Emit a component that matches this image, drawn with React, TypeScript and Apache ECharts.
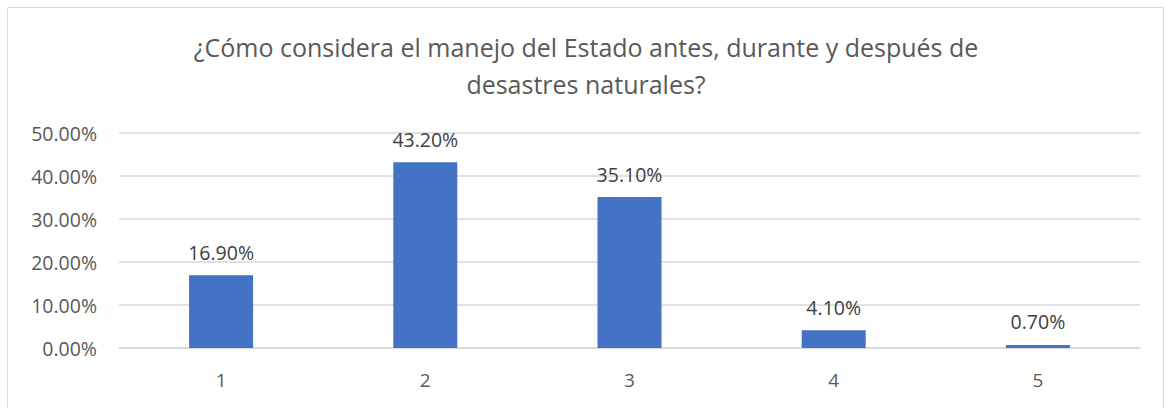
import React, { useEffect, useRef } from "react";
import * as echarts from "echarts";

const titleText = "¿Cómo considera el manejo del Estado antes, durante y después de\ndesastres naturales?";
const categories = ["1", "2", "3", "4", "5"];
const values = [16.9, 43.2, 35.1, 4.1, 0.7];

export default function App() {
  const ref = useRef<HTMLDivElement>(null);
  useEffect(() => {
    const chart = echarts.init(ref.current!, undefined, { renderer: "svg" });
    chart.setOption({
      animation: false,
      backgroundColor: "#ffffff",
      title: {
        text: titleText,
        left: "center",
        top: 23,
        textStyle: {
          fontFamily: "Open Sans",
          fontSize: 25,
          fontWeight: "normal",
          color: "#595959",
          lineHeight: 37,
        },
      },
      graphic: [
        {
          type: "rect",
          shape: { x: 7.5, y: 7.5, width: 1156, height: 420 },
          style: { fill: "none", stroke: "#d9d9d9", lineWidth: 1 },
          silent: true,
        },
      ],
      grid: { left: 119, right: 32, top: 133, bottom: 60 },
      xAxis: {
        type: "category",
        data: categories,
        axisTick: { show: false },
        axisLine: { lineStyle: { color: "#d9d9d9", width: 1.5 } },
        axisLabel: {
          color: "#595959",
          fontFamily: "Open Sans",
          fontSize: 19,
          margin: 22,
        },
      },
      yAxis: {
        type: "value",
        min: 0,
        max: 50,
        interval: 10,
        axisLine: { show: false },
        axisTick: { show: false },
        splitLine: { lineStyle: { color: "#d9d9d9", width: 1.5 } },
        axisLabel: {
          color: "#595959",
          fontFamily: "Open Sans",
          fontSize: 19.5,
          margin: 22,
          formatter: (v: number) => v.toFixed(2) + "%",
        },
      },
      series: [
        {
          type: "bar",
          data: values,
          barWidth: 64,
          itemStyle: { color: "#4472c4" },
          label: {
            show: true,
            position: "top",
            distance: 13,
            color: "#404040",
            fontFamily: "Open Sans",
            fontSize: 19.5,
            formatter: (p: any) => p.value.toFixed(2) + "%",
          },
        },
      ],
    });
    return () => chart.dispose();
  }, []);
  return (
    <div
      ref={ref}
      style={{ position: "fixed", left: 0, top: 0, width: 1172, height: 408 }}
    />
  );
}
